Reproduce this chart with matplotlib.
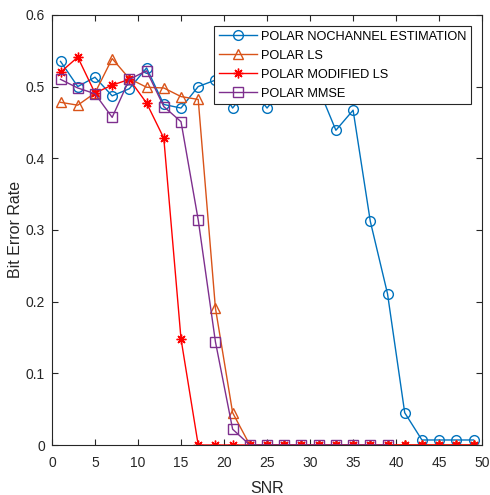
import numpy as np
import matplotlib
matplotlib.use('Agg')
import matplotlib.pyplot as plt

plt.rcParams['font.family'] = ['Liberation Sans', 'DejaVu Sans']

snr = list(range(1, 50, 2))

# bit error rates
ber_nochannel = [0.535, 0.500, 0.513, 0.487, 0.497, 0.526, 0.475, 0.470, 0.500, 0.509,
                 0.470, 0.500, 0.470, 0.500, 0.490, 0.497, 0.439, 0.467, 0.312, 0.211,
                 0.045, 0.007, 0.007, 0.007, 0.007]
ber_ls = [0.478, 0.474, 0.491, 0.539, 0.511, 0.499, 0.498, 0.486, 0.482, 0.191,
          0.045, 0, 0, 0, 0, 0, 0, 0, 0, 0, 0, 0, 0, 0, 0]
ber_mod_ls = [0.520, 0.541, 0.491, 0.502, 0.510, 0.477, 0.428, 0.148, 0, 0,
              0, 0, 0, 0, 0, 0, 0, 0, 0, 0, 0, 0, 0, 0, 0]
ber_mmse = [0.510, 0.498, 0.490, 0.457, 0.510, 0.522, 0.472, 0.451, 0.314, 0.144,
            0.022, 0, 0, 0, 0, 0, 0, 0, 0, 0]

labels = ['POLAR NOCHANNEL ESTIMATION', 'POLAR LS', 'POLAR MODIFIED LS', 'POLAR MMSE']

fig = plt.figure(figsize=(4.9, 4.95), dpi=100)
ax = fig.add_axes([0.106, 0.101, 0.878, 0.869])

ax.plot(snr, ber_nochannel, '-o', color='#0072BD', lw=1, ms=7, mfc='none', label=labels[0])
ax.plot(snr, ber_ls, '-^', color='#D95319', lw=1, ms=7, mfc='none', label=labels[1])
# MATLAB style asterisk marker
ax.plot(snr, ber_mod_ls, '-', marker=(8, 2, 0), color='#FF0000', lw=1, ms=7, mew=1, label=labels[2])
ax.plot(snr[:len(ber_mmse)], ber_mmse, '-s', color='#7E2F8E', lw=1, ms=7, mfc='none', label=labels[3])

ax.set_xlim(0, 50)
ax.set_ylim(0, 0.6)
ax.set_xticks(np.arange(0, 51, 5))
ax.set_yticks(np.arange(0, 0.61, 0.1))
ax.set_yticklabels(['0', '0.1', '0.2', '0.3', '0.4', '0.5', '0.6'])
ax.tick_params(direction='in', top=True, right=True, labelsize=10, length=4,
               color='#262626', labelcolor='#262626')
ax.tick_params(axis='x', pad=8)
ax.tick_params(axis='y', pad=5)
for s in ax.spines.values():
    s.set_color('#262626')
    s.set_linewidth(0.8)

ax.set_xlabel('SNR', fontsize=11.5, color='#262626', labelpad=8)
ax.set_ylabel('Bit Error Rate', fontsize=11.5, color='#262626', labelpad=2)

leg = ax.legend(loc='upper right', fontsize=9.2, fancybox=False, framealpha=1,
                edgecolor='#262626', handlelength=3.0, labelspacing=0.55,
                borderaxespad=0.9, handletextpad=0.3, borderpad=0.35)
leg.get_frame().set_linewidth(0.8)

fig.savefig('out.png', dpi=100)
